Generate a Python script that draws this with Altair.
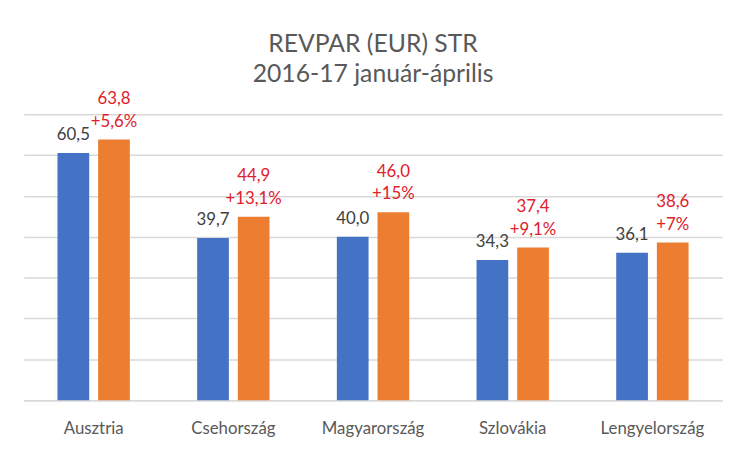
import altair as alt
import pandas as pd

countries = ["Ausztria", "Csehország", "Magyarország", "Szlovákia", "Lengyelország"]
revpar_2016 = [60.5, 39.7, 40.0, 34.3, 36.1]
revpar_2017 = [63.8, 44.9, 46.0, 37.4, 38.6]
change_labels = ["+5,6%", "+13,1%", "+15%", "+9,1%", "+7%"]
years = ["2016", "2017"]
bar_colors = ["#4472C4", "#ED7D31"]
title_lines = ["REVPAR (EUR) STR", "2016-17 január-április"]


def fmt(v):
    return f"{v:.1f}".replace(".", ",")


rows = []
for i, c in enumerate(countries):
    rows.append(dict(country=c, year=years[0], value=revpar_2016[i],
                     label=fmt(revpar_2016[i]), change=""))
    rows.append(dict(country=c, year=years[1], value=revpar_2017[i],
                     label=fmt(revpar_2017[i]), change=change_labels[i]))
df = pd.DataFrame(rows)

FONT = "Lato"
x = alt.X("country:N", sort=countries,
          scale=alt.Scale(paddingInner=0.482, paddingOuter=0.241),
          axis=alt.Axis(title=None, labelAngle=0, ticks=False, grid=False,
                        domainColor="#D9D9D9", domainWidth=1.5,
                        labelColor="#595959", labelFont=FONT, labelFontSize=17,
                        labelPadding=34, labelBaseline="alphabetic"))
xo = alt.XOffset("year:N", scale=alt.Scale(domain=years, paddingInner=0.22, paddingOuter=0))
y = alt.Y("value:Q", scale=alt.Scale(domain=[0, 70], nice=False),
          axis=alt.Axis(title=None, labels=False, ticks=False, domain=False,
                        values=list(range(0, 71, 10)),
                        gridColor="#D9D9D9", gridWidth=1.5))

base = alt.Chart(df)

bars = base.mark_bar().encode(
    x=x, xOffset=xo, y=y,
    color=alt.Color("year:N", scale=alt.Scale(domain=years, range=bar_colors), legend=None),
)

lbl_2016 = base.transform_filter(alt.datum.year == years[0]).mark_text(
    dy=-13, baseline="alphabetic", color="#404040", font=FONT, fontSize=17
).encode(x=x, xOffset=xo, y=y, text="label:N")

lbl_2017 = base.transform_filter(alt.datum.year == years[1]).mark_text(
    dy=-36, baseline="alphabetic", color="#E0202A", font=FONT, fontSize=17
).encode(x=x, xOffset=xo, y=y, text="label:N")

chg_2017 = base.transform_filter(alt.datum.year == years[1]).mark_text(
    dy=-13, baseline="alphabetic", color="#E0202A", font=FONT, fontSize=17
).encode(x=x, xOffset=xo, y=y, text="change:N")

chart = alt.layer(bars, lbl_2016, lbl_2017, chg_2017).properties(
    width=706, height=289,
    autosize=alt.AutoSizeParams(type="none"),
    padding={"left": 16, "top": 105, "right": 22, "bottom": 50},
    title=alt.TitleParams(text=title_lines, fontSize=25, font=FONT, color="#595959",
                          fontWeight="normal", lineHeight=31, anchor="middle", offset=3),
    background="white",
).configure_view(stroke=None)

chart.save("out.html", embed_options={"renderer": "svg", "actions": False})
